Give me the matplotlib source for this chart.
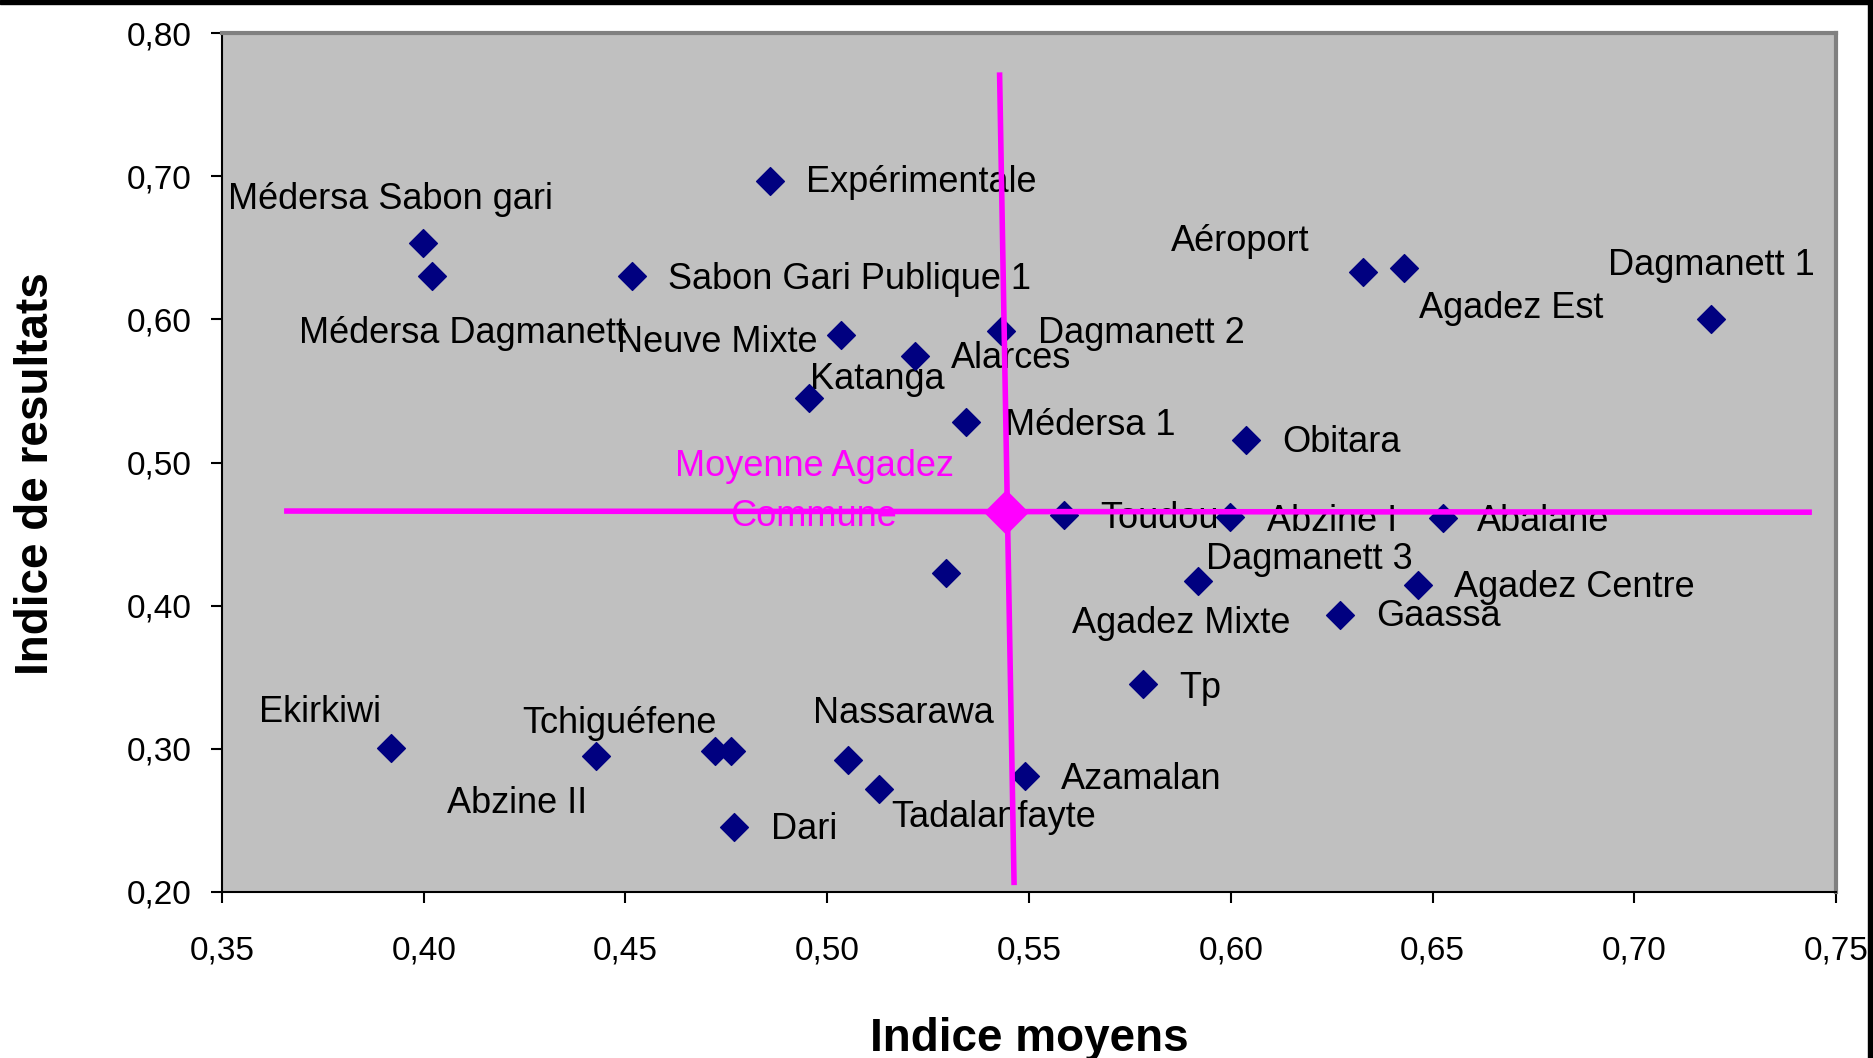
import numpy as np
import matplotlib
matplotlib.use("Agg")
import matplotlib.pyplot as plt
from matplotlib.path import Path
from matplotlib.patches import Rectangle
from matplotlib.ticker import FuncFormatter, MultipleLocator

plt.rcParams['font.family'] = ['Liberation Sans', 'DejaVu Sans']

# schools: indice moyens (x) / indice de resultats (y)
names = ["Médersa Sabon gari", "Médersa Dagmanett", "Expérimentale", "Sabon Gari Publique 1",
         "Neuve Mixte", "Alarces", "Katanga", "Dagmanett 2", "Médersa 1", "Obitara",
         "Aéroport", "Agadez Est", "Dagmanett 1", "Toudou", "Abzine I", "Abalane",
         "Agadez Mixte", "Dagmanett 3", "Agadez Centre", "Gaassa", "Tp", "Ekirkiwi",
         "Abzine II", "Tchiguéfene", "", "Nassarawa", "Tadalanfayte", "Dari", "Azamalan"]
indice_moyens = [0.3997, 0.4021, 0.4859, 0.4515, 0.5033, 0.5217, 0.4954, 0.5430, 0.5344, 0.6037,
                 0.6327, 0.6428, 0.7189, 0.5587, 0.5999, 0.6525,
                 0.5294, 0.5919, 0.6463, 0.6271, 0.5782, 0.3920,
                 0.4427, 0.4723, 0.4761, 0.5051, 0.5128, 0.4770, 0.5489]
indice_resultats = [0.653, 0.630, 0.6965, 0.630, 0.589, 0.5746, 0.5454, 0.592, 0.528, 0.516,
                    0.633, 0.6356, 0.6005, 0.4636, 0.462, 0.461,
                    0.4227, 0.4169, 0.4144, 0.3935, 0.3451, 0.3008,
                    0.295, 0.2983, 0.2983, 0.2925, 0.2716, 0.2457, 0.2808]

mean_label = "Moyenne Agadez\nCommune"
mean_x = [0.5442]
mean_y = [0.4653]
hline_x = [0.3654, 0.7440]
hline_y = [0.4661, 0.4653]
vline_x = [0.5427, 0.5463]
vline_y = [0.7725, 0.2048]

# label offsets (points) from each marker
label_offsets = [(-140, 34), (-96, -39), (26, 1), (26, 0), (-161, -3), (26, 0), (1, 15),
                 (27, 0), (28, 0), (26, 0), (-138, 24), (11, -27), (-74, 40), (26, -1),
                 (26, -1), (25, 0), (91, -34), (6, 18), (26, 0), (26, 1), (26, -1),
                 (-95, 27), (-107, -32), (-139, 22), (0, 0), (-25, 35), (9, -18), (26, 0), (26, 0)]

diamond = Path([(0, 1), (1, 0), (0, -1), (-1, 0), (0, 1)],
               [Path.MOVETO, Path.LINETO, Path.LINETO, Path.LINETO, Path.CLOSEPOLY])

fig = plt.figure(figsize=(18.73, 10.58), dpi=100)
ax = fig.add_axes([0.1185, 0.1569, 0.8618, 0.8119])
ax.set_facecolor("#C0C0C0")

ax.plot(indice_moyens, indice_resultats, linestyle="none", marker=diamond,
        markersize=20, color="#000080", zorder=3)

for name, x, y, off in zip(names, indice_moyens, indice_resultats, label_offsets):
    if name:
        ax.annotate(name, (x, y), xytext=(off[0], off[1] - 2), textcoords="offset points",
                    ha="left", va="center", fontsize=26, color="black", zorder=2)

ax.plot(hline_x, hline_y, color="#FF00FF", linewidth=4, solid_capstyle="butt", zorder=4)
ax.plot(vline_x, vline_y, color="#FF00FF", linewidth=4, solid_capstyle="butt", zorder=4)
ax.plot(mean_x, mean_y, linestyle="none", marker=diamond, markersize=31,
        color="#FF00FF", zorder=5)
ax.annotate(mean_label, (mean_x[0], mean_y[0]), xytext=(-138, 15), textcoords="offset points",
            ha="center", va="center", fontsize=26, color="#FF00FF", linespacing=1.58, zorder=2)

ax.set_xlim(0.35, 0.75)
ax.set_ylim(0.20, 0.80)
ax.xaxis.set_major_locator(MultipleLocator(0.05))
ax.yaxis.set_major_locator(MultipleLocator(0.10))
fmt = FuncFormatter(lambda v, p: f"{v:.2f}".replace(".", ","))
ax.xaxis.set_major_formatter(fmt)
ax.yaxis.set_major_formatter(fmt)
ax.tick_params(axis="both", direction="out", length=8, width=1.5, labelsize=24)
ax.tick_params(axis="x", pad=23)
ax.tick_params(axis="y", pad=14)
ax.tick_params(top=False, right=False)

for side in ["top", "right"]:
    ax.spines[side].set_color("#808080")
    ax.spines[side].set_linewidth(3)
for side in ["left", "bottom"]:
    ax.spines[side].set_color("black")
    ax.spines[side].set_linewidth(1.5)

fig.text(1029 / 1873, 1 - 1039 / 1058, "Indice moyens", ha="center", va="center",
         fontsize=33, fontweight="bold")
fig.text(36 / 1873, 1 - 474 / 1058, "Indice de resultats", ha="center", va="center",
         fontsize=33, fontweight="bold", rotation=90)

# black frame at top and right edge of the picture
fig.add_artist(Rectangle((0, 1 - 4 / 1058), 1, 4 / 1058, transform=fig.transFigure,
                         color="black", zorder=10))
fig.add_artist(Rectangle((1 - 5 / 1873, 0), 5 / 1873, 1, transform=fig.transFigure,
                         color="black", zorder=10))

fig.savefig("out.png", dpi=100)
